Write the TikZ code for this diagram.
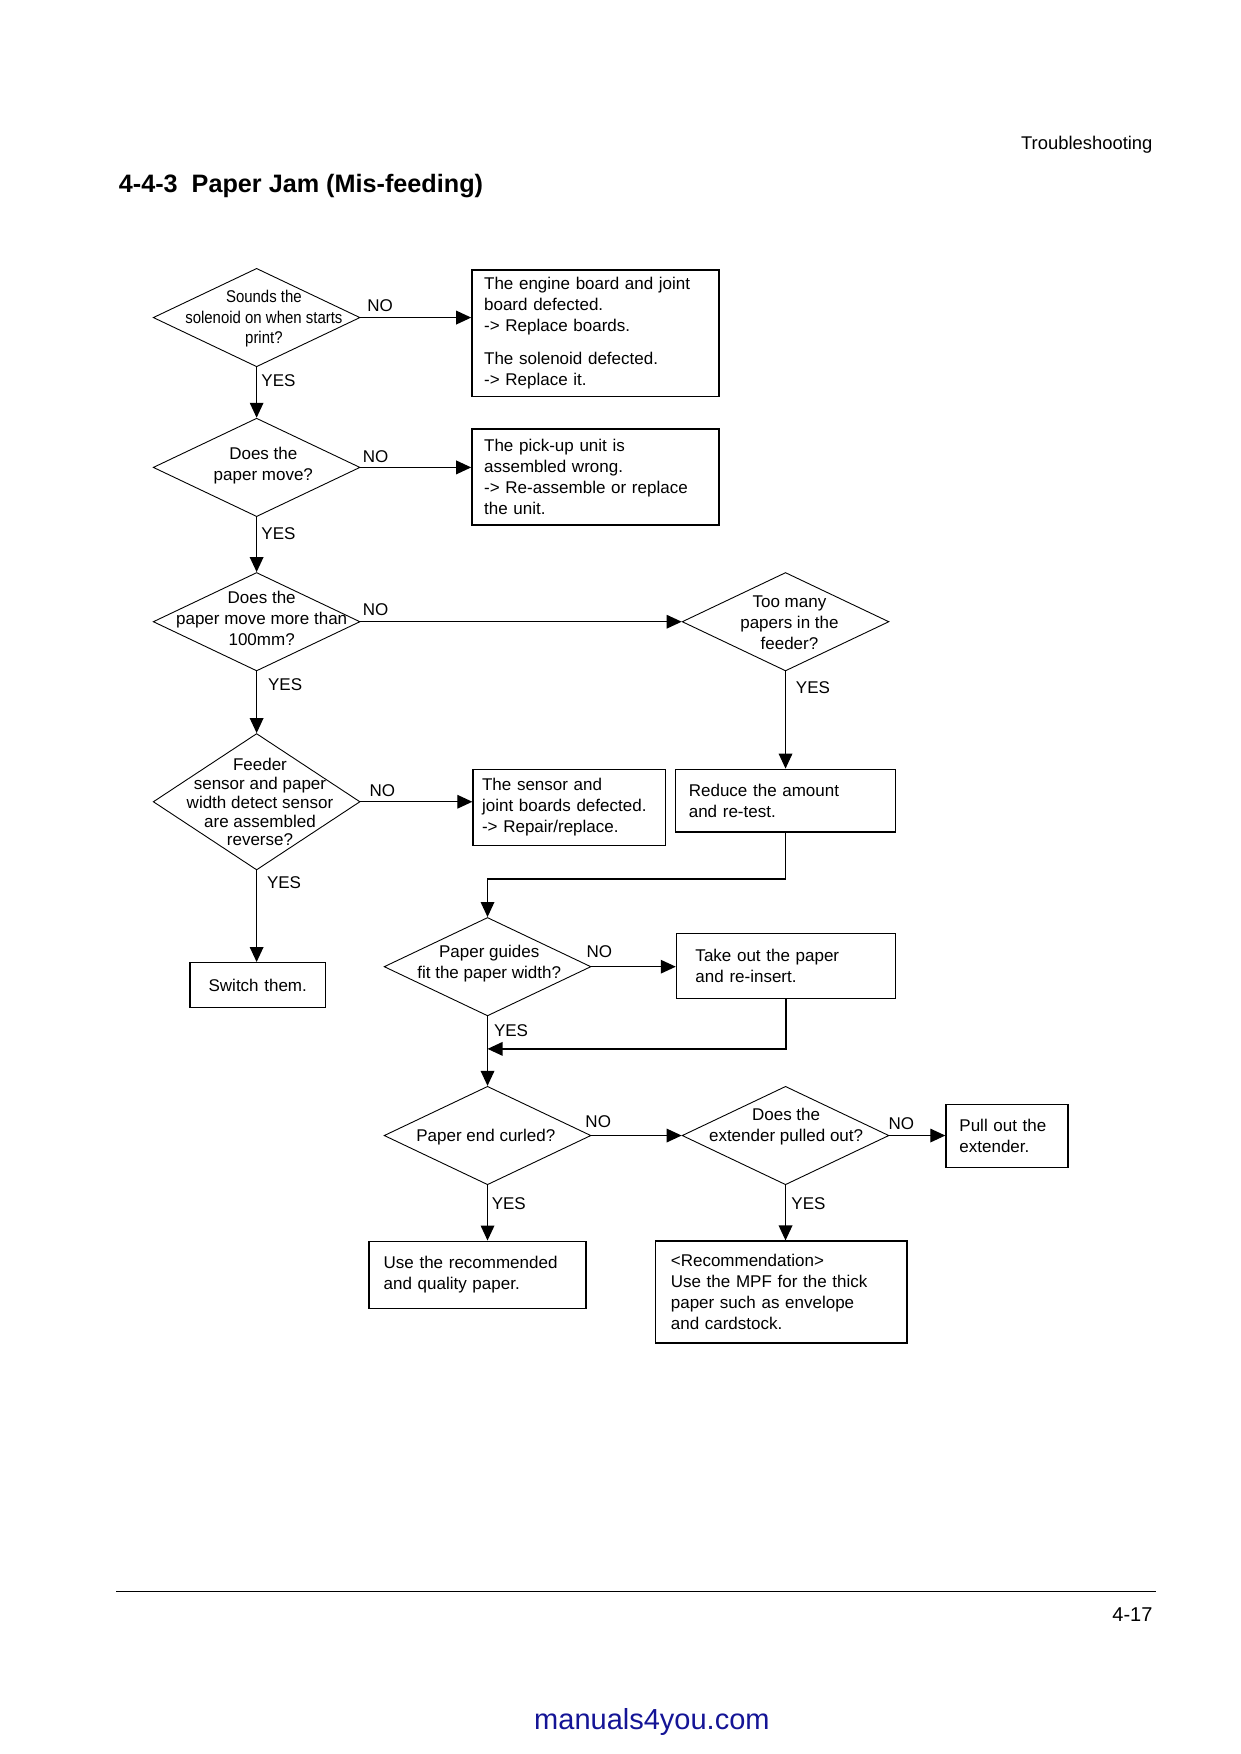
\documentclass[tikz,border=0pt]{standalone}
\usepackage{fontspec}
\setmainfont{Liberation Sans}
\newfontfamily\narrowfont[FakeStretch=0.88]{Liberation Sans}
\usetikzlibrary{shapes.geometric,arrows.meta}
\definecolor{linkblue}{RGB}{20,20,150}
\begin{document}
\begin{tikzpicture}[x=0.559pt,y=-0.559pt,
  dia/.style={draw, line width=0.45pt, shape=diamond, minimum width=103.4pt, minimum height=49.2pt, inner sep=0pt},
  dtxt/.style={align=center, font=\fontsize{8.5}{10.4}\selectfont, inner sep=0pt},
  box/.style={draw, line width=0.7pt, align=left, font=\fontsize{8.5}{10.45}\selectfont, inner ysep=0pt},
  lab/.style={font=\fontsize{8.5}{10}\selectfont, inner sep=0pt},
  arr/.style={line width=0.65pt, -{Triangle[length=7.5pt,width=6.8pt]}},
  plain/.style={inner sep=0pt}]
\useasboundingbox (0,0) rectangle (1109,1568.6);

% header / title
\node[plain, anchor=base east, font=\fontsize{9.2}{11}\selectfont] (hdr) at (1031,134) {Troubleshooting};
\node[plain, anchor=base west, font=\bfseries\fontsize{12.6}{15}\selectfont] (ttl) at (106,172) {4-4-3~~Paper Jam (Mis-feeding)};

% diamonds
\node[dia] (d1) at (229.5,284) {};
\node[dtxt, font=\narrowfont\fontsize{8.5}{10.3}\selectfont] (d1t) at (236,285) {Sounds the\\solenoid on when starts\\print?};
\node[dia] (d2) at (229.5,418) {};
\node[dtxt] (d2t) at (235.5,416.5) {Does the\\paper move?};
\node[dia] (d3) at (229.5,556) {};
\node[dtxt] (d3t) at (234,553) {Does the\\paper move more than\\100mm?};
\node[dia] (d4) at (702.5,556) {};
\node[dtxt] (d4t) at (706,557) {Too many\\papers in the\\feeder?};
\node[dia, minimum height=68.2pt] (d5) at (229.5,717) {};
\node[dtxt, font=\fontsize{8.5}{9.4}\selectfont] (d5t) at (232.5,717.5) {Feeder\\sensor and paper\\width detect sensor\\are assembled\\reverse?};
\node[dia] (d6) at (436,864.5) {};
\node[dtxt] (d6t) at (437.5,861.5) {Paper guides\\fit the paper width?};
\node[dia] (d7) at (436,1015.5) {};
\node[dtxt] (d7t) at (434.5,1017) {Paper end curled?};
\node[dia] (d8) at (702.5,1015.5) {};
\node[dtxt] (d8t) at (703,1007.5) {Does the\\extender pulled out?};

% boxes
\node[box, minimum width=123.5pt, minimum height=63.2pt, text width=111.3pt, inner xsep=6.1pt] (b1) at (532.5,298)
  {The engine board and joint\\board defected.\\-> Replace boards.\\[6.2pt]The solenoid defected.\\-> Replace it.};
\node[box, minimum width=123.5pt, minimum height=48.1pt, text width=111.3pt, inner xsep=6.1pt] (b2) at (532.5,426.5)
  {The pick-up unit is\\assembled wrong.\\-> Re-assemble or replace\\the unit.};
\node[box, minimum width=96.1pt, minimum height=38pt, text width=87.1pt, inner xsep=4.5pt] (bs) at (509,722)
  {The sensor and\\joint boards defected.\\-> Repair/replace.};
\node[box, minimum width=110.1pt, minimum height=31.3pt, text width=96.7pt, inner xsep=6.7pt] (br) at (702.5,716)
  {Reduce the amount\\and re-test.};
\node[box, align=center, minimum width=67.6pt, minimum height=22.4pt, text width=57.6pt, inner xsep=5pt] (bw) at (230.5,881)
  {Switch them.};
\node[box, minimum width=109.6pt, minimum height=32.4pt, text width=90.6pt, inner xsep=9.5pt] (bt) at (703,864)
  {Take out the paper\\and re-insert.};
\node[box, minimum width=60.9pt, minimum height=31.3pt, text width=47.5pt, inner xsep=6.7pt] (bp) at (900.5,1016)
  {Pull out the\\extender.};
\node[box, minimum width=108.4pt, minimum height=33.5pt, text width=93.8pt, inner xsep=7.3pt] (bu) at (427,1140)
  {Use the recommended\\and quality paper.};
\node[box, minimum width=125.8pt, minimum height=50.9pt, text width=110.2pt, inner xsep=7.8pt] (bm) at (698.5,1155.5)
  {<Recommendation>\\Use the MPF for the thick\\paper such as envelope\\and cardstock.};

% connectors
\draw[arr] (d1.east) -- (d1.east -| b1.west);
\draw[arr] (d1.south) -- (d2.north);
\draw[arr] (d2.east) -- (d2.east -| b2.west);
\draw[arr] (d2.south) -- (d3.north);
\draw[arr] (d3.east) -- (d4.west);
\draw[arr] (d4.south) -- (br.north);
\draw[arr] (d3.south) -- (d5.north);
\draw[arr] (d5.east) -- (d5.east -| bs.west);
\draw[arr] (d5.south) -- (d5.south |- bw.north);
\coordinate (j1) at (436,786);
\draw[arr] (br.south) |- (j1) -- (d6.north);
\draw[arr] (d6.east) -- (d6.east -| bt.west);
\coordinate (j2) at (436,938);
\draw[arr] (bt.south) |- (j2);
\draw[arr] (d6.south) -- (d7.north);
\draw[arr] (d7.east) -- (d8.west);
\draw[arr] (d8.east) -- (d8.east -| bp.west);
\draw[arr] (d7.south) -- (d7.south |- bu.north);
\draw[arr] (d8.south) -- (d8.south |- bm.north);

% labels
\node[lab] (n1) at (340,273) {NO};
\node[lab] (y1) at (249,340) {YES};
\node[lab] (n2) at (336,408) {NO};
\node[lab] (y2) at (249,477) {YES};
\node[lab] (n3) at (336,545) {NO};
\node[lab] (y3) at (255,612) {YES};
\node[lab] (y4) at (727,615) {YES};
\node[lab] (n5) at (342,707) {NO};
\node[lab] (y5) at (254,789) {YES};
\node[lab] (n6) at (536,851) {NO};
\node[lab] (y6) at (457,922) {YES};
\node[lab] (n7) at (535,1003) {NO};
\node[lab] (y7) at (455,1076) {YES};
\node[lab] (n8) at (806,1005) {NO};
\node[lab] (y8) at (723,1076) {YES};

% footer
\draw[line width=0.6pt] (104,1423) -- (1034,1423);
\node[plain, anchor=base east, font=\fontsize{10}{12}\selectfont] (pg) at (1031,1450) {4-17};
\node[plain, anchor=base, font=\fontsize{14.5}{17}\selectfont, text=linkblue] (url) at (583,1547) {manuals4you.com};
\end{tikzpicture}
\end{document}
